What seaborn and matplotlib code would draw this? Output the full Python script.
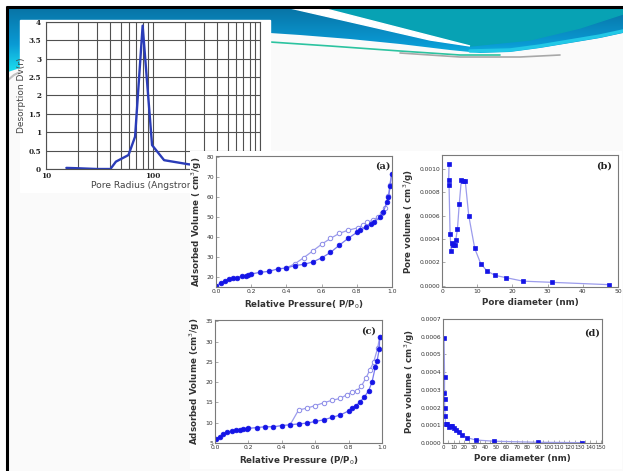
import numpy as np
import matplotlib
matplotlib.use("Agg")
import matplotlib.pyplot as plt
import seaborn as sns
from matplotlib.patches import Rectangle, Polygon
from matplotlib.colors import LinearSegmentedColormap
from matplotlib.ticker import MultipleLocator, FormatStrFormatter, NullFormatter

W, H = 623, 471

# --- data ---
# top-left: desorption Dv(r) vs pore radius (Angstrom)
tl_radius = [15.5, 20, 30, 40, 45, 59, 68, 80, 98, 127, 213, 320]
tl_dv = [0.03, 0.02, 0.0, 0.0, 0.2, 0.38, 0.88, 3.9, 0.65, 0.24, 0.13, 0.06]

# (a) isotherm
a_ads_p = [0.002, 0.028, 0.051, 0.076, 0.099, 0.12, 0.15, 0.17, 0.18, 0.2, 0.25, 0.3, 0.35,
           0.4, 0.45, 0.5, 0.55, 0.6, 0.65, 0.7, 0.75, 0.8, 0.82, 0.85, 0.88, 0.9, 0.93,
           0.95, 0.97, 0.98, 0.99, 0.998]
a_ads_v = [15.5, 17.2, 18.0, 18.8, 19.3, 19.7, 20.5, 20.7, 21.0, 21.5, 22.3, 22.8, 24.0,
           24.5, 25.7, 26.3, 27.5, 29.5, 32.2, 35.8, 39.2, 42.2, 43.2, 44.7, 46.2, 47.5, 49.7,
           52.2, 57.2, 59.7, 65.5, 71.2]
a_des_p = [0.998, 0.987, 0.98, 0.96, 0.943, 0.92, 0.89, 0.86, 0.835, 0.806, 0.75, 0.7,
           0.65, 0.6, 0.55, 0.5, 0.45, 0.4]
a_des_v = [71.2, 65.8, 60.5, 54.2, 51.7, 49.7, 48.3, 47.2, 45.8, 44.5, 43.3, 41.7,
           39.2, 36.3, 33.0, 29.7, 26.7, 24.5]

# (b) pore size distribution
b_diam = [2.0, 1.9, 2.0, 2.3, 2.6, 2.9, 3.2, 3.7, 3.9, 4.4, 4.9, 5.5, 6.0, 6.6, 7.6, 9.3,
          11.0, 12.7, 15.0, 18.2, 23.0, 31.2, 47.4]
b_vol = [0.00104, 0.00091, 0.00086, 0.00044, 0.00030, 0.00037, 0.00035, 0.00035, 0.00039,
         0.00049, 0.00070, 0.00091, 0.00090, 0.00090, 0.00060, 0.00032, 0.00019, 0.00013,
         0.00009, 0.00007, 0.00004, 0.00003, 0.00001]

# (c) isotherm
c_ads_p = [0.006, 0.03, 0.05, 0.074, 0.1, 0.124, 0.15, 0.17, 0.19, 0.2, 0.25, 0.3, 0.35,
           0.4, 0.45, 0.5, 0.55, 0.6, 0.65, 0.7, 0.75, 0.8, 0.82, 0.844, 0.87, 0.894, 0.92,
           0.94, 0.96, 0.97, 0.984, 0.986]
c_ads_v = [6.0, 6.6, 7.1, 7.6, 7.9, 8.1, 8.3, 8.4, 8.5, 8.6, 8.8, 9.0, 9.0,
           9.3, 9.5, 9.7, 9.9, 10.3, 10.7, 11.3, 11.9, 12.9, 13.5, 14.2, 15.2, 16.3, 17.9,
           20.0, 23.7, 25.1, 28.2, 31.1]
c_des_p = [0.986, 0.974, 0.95, 0.926, 0.904, 0.876, 0.85, 0.82, 0.79, 0.75, 0.7, 0.65,
           0.6, 0.55, 0.5, 0.45]
c_des_v = [31.1, 28.4, 24.9, 22.9, 21.0, 19.0, 17.9, 17.5, 16.9, 16.0, 15.5, 14.9,
           14.2, 13.6, 13.1, 9.5]

# (d) pore size distribution
d_diam = [1.0, 1.5, 1.4, 1.5, 1.6, 2.0, 2.5, 4.0, 5.7, 7.3, 8.9, 10.5, 12.7, 15.0, 18.0,
          23.0, 31.0, 48.6, 90.0, 131.7]
d_vol = [0.00059, 0.00037, 0.00028, 0.00025, 0.00020, 0.00015, 0.00011, 0.000105, 0.00009,
         0.000095, 0.000095, 0.000087, 0.000074, 0.00006, 0.000045, 0.00003, 0.000017,
         0.00001, 0.000004, 0.000002]

# --- style ---
sns.set_style("white")
plt.rcParams['font.family'] = ['DejaVu Sans']

fig = plt.figure(figsize=(W / 100, H / 100), dpi=100)
fig.patch.set_facecolor('#fafafa')


def px_axes(l, t, r, b):
    return fig.add_axes([l / W, 1 - b / H, (r - l) / W, (b - t) / H])


# background / slide banner
bg = px_axes(0, 0, W, H)
bg.set_facecolor('#fafafa')
bg.add_patch(Rectangle((0, 0), W, 6, color='white', zorder=0))
bg.add_patch(Rectangle((0, 0), 6, H, color='white', zorder=0))

banner_pts = [(8, 8), (W, 8), (W, 33), (600, 38), (570, 43), (540, 48), (510, 52), (480, 53),
              (450, 50), (400, 44), (350, 39), (300, 35), (270, 33), (230, 40), (100, 55),
              (20, 68), (8, 72)]
banner = Polygon(banner_pts, closed=True, facecolor='none', edgecolor='none')
bg.add_patch(banner)
cmap = LinearSegmentedColormap.from_list('ban', [(0, '#0874a6'), (0.55, '#0a9ad4'), (1, '#1ee4f2')])
im = bg.imshow(np.linspace(0, 1, 100).reshape(-1, 1), cmap=cmap, extent=[8, W, 74, 8],
               aspect='auto', zorder=1)
im.set_clip_path(banner)
# teal band and white swoosh
bg.add_patch(Polygon([(322, 8), (W, 8), (W, 14), (580, 28), (530, 40), (470, 46)],
                     closed=True, color='#07a2b4', zorder=2))
bg.add_patch(Polygon([(290, 8), (322, 8), (470, 46), (430, 40)],
                     closed=True, color='white', zorder=2))
bg.plot([470, 510, 540, 570, 600, W], [51, 50, 46, 41, 36, 31], color='#22c8e6', lw=2.5, zorder=2)
bg.plot([270, 330, 400, 460, 500], [42, 46, 51, 55, 55], color='#2cc3a0', lw=1.2, zorder=2)
bg.plot([400, 460, 520, 560], [53, 57, 57, 55], color='#a8a8a8', lw=1.2, zorder=2)
bg.plot([8, 14, 22], [80, 75, 71], color='#c0c0c0', lw=1.5, zorder=2)
# slide border
bg.plot([6, W], [7, 7], color='black', lw=2.2, zorder=3, solid_capstyle='butt')
bg.plot([7, 7], [6, H], color='black', lw=2.2, zorder=3, solid_capstyle='butt')
bg.add_patch(Rectangle((20, 20), 250, 172, color='white', zorder=4))
bg.set_xlim(0, W)
bg.set_ylim(H, 0)
bg.axis('off')

# --- top-left chart ---
tl = px_axes(46, 22, 260, 169)
tl.set_facecolor('white')
sns.lineplot(x=tl_radius, y=tl_dv, ax=tl, color='#2a3cb8', lw=1.7, sort=False, estimator=None)
tl.set_xscale('log')
tl.set_xlim(10, 1000)
tl.set_ylim(0, 4)
tl.set_yticks(np.arange(0, 4.01, 0.5))
tl.set_yticklabels(['0', '0.5', '1', '1.5', '2', '2.5', '3', '3.5', '4'])
tl.set_xticks([10, 100, 1000])
tl.set_xticklabels(['10', '100', '1000'])
tl.xaxis.set_minor_formatter(NullFormatter())
tl.grid(True, which='both', axis='x', color='#505050', lw=0.8)
tl.grid(True, which='major', axis='y', color='#505050', lw=0.8)
tl.tick_params(which='both', length=0, labelsize=5.2, labelcolor='#222')
tl.tick_params(axis='y', pad=3.5)
tl.tick_params(axis='x', pad=2.5)
for lab in tl.get_xticklabels() + tl.get_yticklabels():
    lab.set_fontweight('bold')
    lab.set_family('DejaVu Serif')
for s in tl.spines.values():
    s.set_color('#505050')
    s.set_linewidth(0.8)
tl.set_xlabel('Pore Radius (Angstrom)', fontsize=6.6, color='#444')
tl.xaxis.set_label_coords((145 - 46) / 214, (169 - 181) / 147)
tl.set_ylabel('Desorption Dv(r)', fontsize=6.5, color='#444', labelpad=1.5)

# white cover for the composite panel figure
cover = px_axes(190, 151, 622, 469)
cover.set_facecolor('white')
cover.set_xticks([])
cover.set_yticks([])
for s in cover.spines.values():
    s.set_visible(False)

LINE_A = '#7878f0'
LINE_D = '#9c9cec'
DOT = '#1414e6'
OPEN = '#8a8ae8'


def style_panel(ax, xlabel, ylabel, tag, tx, ty):
    for s in ax.spines.values():
        s.set_visible(True)
        s.set_color('#7a7a7a')
        s.set_linewidth(0.8)
    ax.tick_params(which='both', direction='in', length=2, width=0.5, labelsize=4.3, pad=1.5,
                   colors='#888', labelcolor='#333', bottom=True, left=True)
    ax.set_xlabel(xlabel, fontsize=6.3, fontweight='bold', color='#333', labelpad=3)
    ax.set_ylabel(ylabel, fontsize=6.3, fontweight='bold', color='#333', labelpad=2)
    ax.text(tx, ty, tag, transform=ax.transAxes, ha='center', va='center',
            family='DejaVu Serif', fontweight='bold', fontsize=7, color='#222')


def isotherm(ax, ads_p, ads_v, des_p, des_v):
    sns.lineplot(x=des_p, y=des_v, ax=ax, sort=False, estimator=None, color=LINE_D, lw=0.9,
                 marker='o', ms=3.2, mfc='white', mec=OPEN, mew=0.7)
    sns.lineplot(x=ads_p, y=ads_v, ax=ax, sort=False, estimator=None, color=LINE_A, lw=0.9,
                 marker='o', ms=3.4, mfc=DOT, mec=DOT, mew=0.5)


# (a)
ax_a = px_axes(216, 156, 392, 287)
ax_a.set_facecolor('white')
isotherm(ax_a, a_ads_p, a_ads_v, a_des_p, a_des_v)
ax_a.set_xlim(0, 1.0)
ax_a.set_ylim(15, 80.3)
ax_a.xaxis.set_major_locator(MultipleLocator(0.2))
ax_a.xaxis.set_major_formatter(FormatStrFormatter('%.1f'))
ax_a.yaxis.set_major_locator(MultipleLocator(10))
style_panel(ax_a, 'Relative Pressure( P/P$_0$)', 'Adsorbed Volume ( cm$^3$/g)', '(a)', 0.95, 0.92)

# (b)
ax_b = px_axes(442, 155, 618, 287)
ax_b.set_facecolor('white')
sns.lineplot(x=b_diam, y=b_vol, ax=ax_b, sort=False, estimator=None, color=LINE_D, lw=0.9,
             marker='s', ms=3.0, mfc=DOT, mec=DOT, mew=0.5)
ax_b.set_xlim(0, 50)
ax_b.set_ylim(-0.00001, 0.00112)
ax_b.xaxis.set_major_locator(MultipleLocator(10))
ax_b.yaxis.set_major_locator(MultipleLocator(0.0002))
ax_b.yaxis.set_major_formatter(FormatStrFormatter('%.4f'))
style_panel(ax_b, 'Pore diameter (nm)', 'Pore volume ( cm$^3$/g)', '(b)', 0.92, 0.92)

# (c)
ax_c = px_axes(215, 320, 382, 443)
ax_c.set_facecolor('white')
isotherm(ax_c, c_ads_p, c_ads_v, c_des_p, c_des_v)
ax_c.set_xlim(0, 1.0)
ax_c.set_ylim(5, 35.3)
ax_c.xaxis.set_major_locator(MultipleLocator(0.2))
ax_c.xaxis.set_major_formatter(FormatStrFormatter('%.1f'))
ax_c.yaxis.set_major_locator(MultipleLocator(5))
style_panel(ax_c, 'Relative Pressure (P/P$_0$)', 'Adsorbed Volume (cm$^3$/g)', '(c)', 0.92, 0.91)

# (d)
ax_d = px_axes(443, 319, 602, 443)
ax_d.set_facecolor('white')
sns.lineplot(x=d_diam, y=d_vol, ax=ax_d, sort=False, estimator=None, color=LINE_D, lw=0.9,
             marker='s', ms=3.0, mfc=DOT, mec=DOT, mew=0.5)
ax_d.set_xlim(0, 151)
ax_d.set_ylim(0, 0.0007)
ax_d.xaxis.set_major_locator(MultipleLocator(10))
ax_d.xaxis.set_minor_locator(MultipleLocator(5))
ax_d.yaxis.set_major_locator(MultipleLocator(0.0001))
ax_d.yaxis.set_major_formatter(FormatStrFormatter('%.4f'))
style_panel(ax_d, 'Pore diameter (nm)', 'Pore volume ( cm$^3$/g)', '(d)', 0.94, 0.89)
ax_d.tick_params(axis='x', labelsize=4.0, pad=1.2)

fig.savefig('out.png', dpi=100)
